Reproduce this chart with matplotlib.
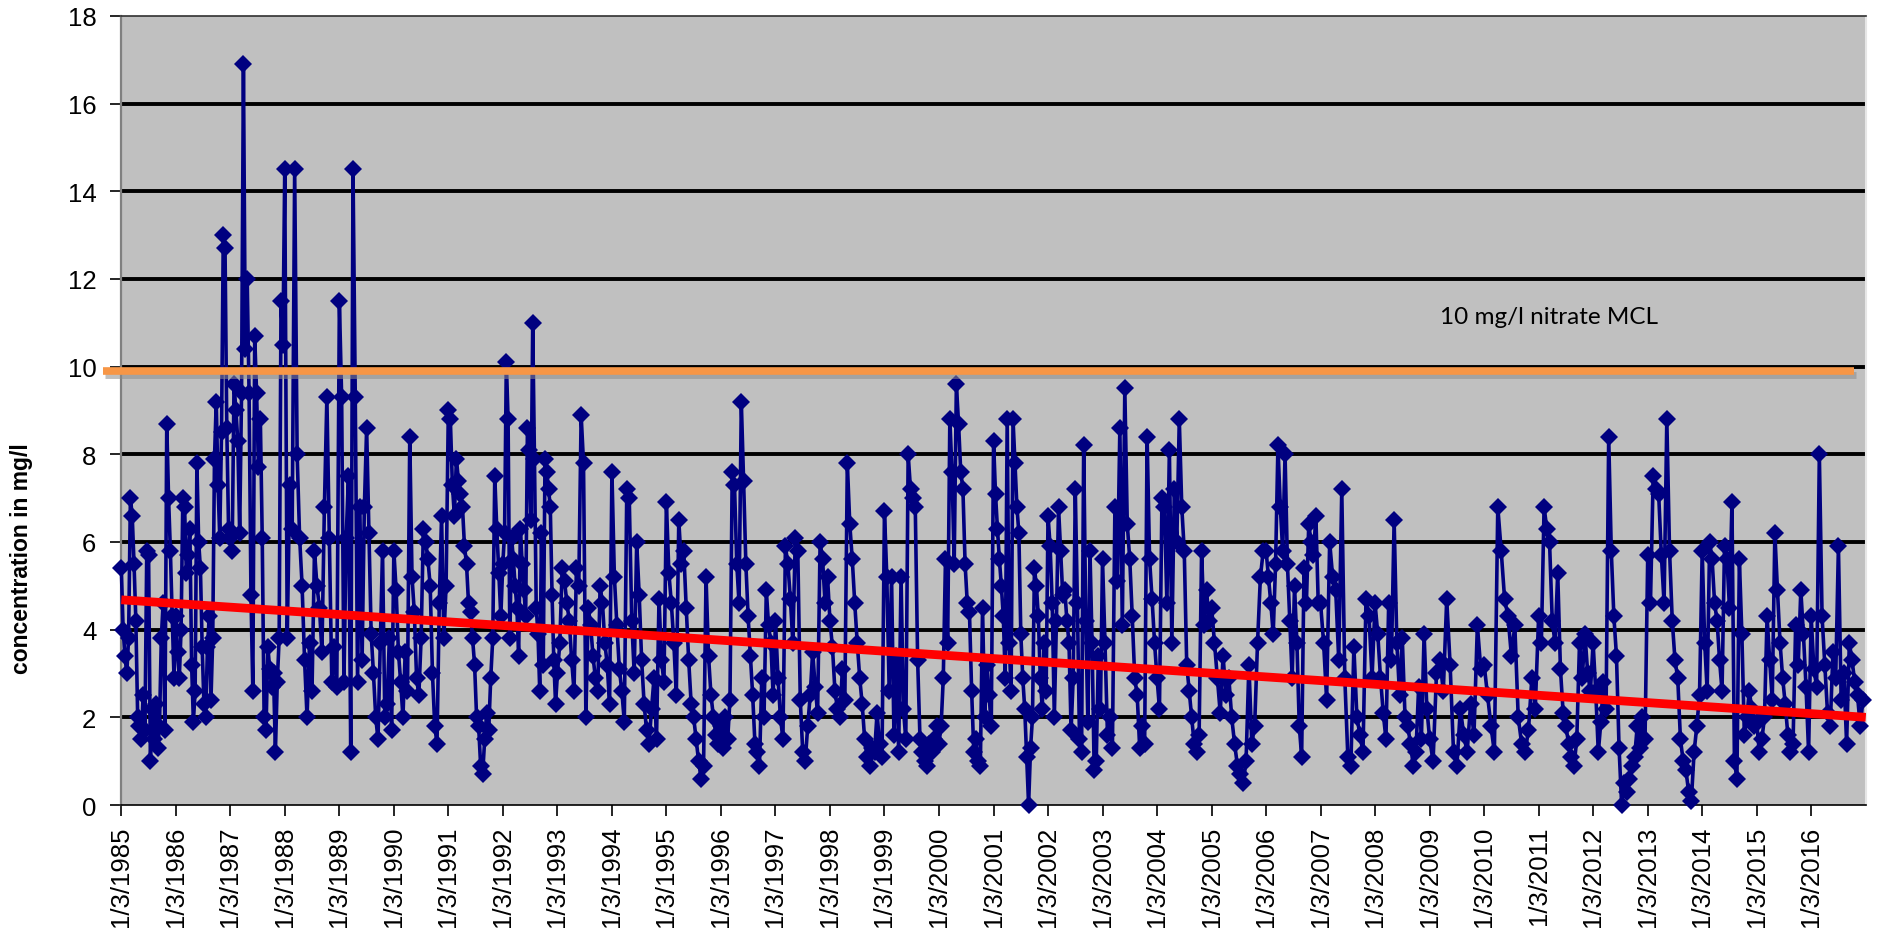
import datetime as dt

import matplotlib.pyplot as plt
from matplotlib import transforms

# nitrate concentration samples (mg/l), listed in sampling order within each year
y1985 = [5.4, 4.0, 3.4, 3.0, 3.8, 7.0, 6.6, 5.5, 4.2, 2.0, 1.8, 1.5, 2.5, 1.7, 5.8,
         5.7, 1.0, 2.2, 1.5, 2.3, 1.3, 1.8, 3.8, 4.6, 1.7, 8.7, 7.0, 5.8, 4.3, 2.9]
y1986 = [4.3, 3.5, 2.9, 4.0, 7.0, 6.8, 5.3, 5.7, 6.3, 3.2, 1.9, 2.6, 7.8, 6.0, 5.4, 3.6,
         2.3, 2.0, 3.6, 4.3, 2.4, 3.8, 7.9, 9.2, 7.3, 6.1, 8.5, 13.0, 12.7, 8.6, 6.3]
y1987 = [6.1, 5.8, 9.6, 9.0, 8.3, 6.2, 9.4, 16.9, 10.4, 12.0, 9.4, 4.8, 2.6, 10.7, 9.4,
         7.7, 8.8, 6.1, 2.0, 1.7, 3.6, 3.1, 2.7, 3.0, 1.2, 2.8, 3.8, 11.5, 10.5]
y1988 = [14.5, 3.8, 7.3, 6.3, 14.5, 8.0, 6.1, 5.0, 3.3, 2.0, 3.7, 2.6, 5.8, 5.0, 4.5,
         3.5, 6.8, 9.3, 6.1, 2.8, 3.6, 2.7]
y1989 = [11.5, 9.3, 2.8, 6.1, 7.5, 1.2, 14.5, 9.3, 2.8, 6.8, 3.3, 6.8, 8.6, 6.2, 3.9,
         3.0, 2.0, 1.5, 3.7, 5.8, 2.0, 2.3, 3.8, 1.7]
y1990 = [5.8, 4.9, 3.5, 2.8, 2.0, 3.5, 2.6, 8.4, 5.2, 4.4, 2.9, 2.5, 3.8, 6.3, 6.0,
         5.6, 5.0, 3.0, 1.8, 1.4, 4.6, 6.6, 3.8, 5.0]
y1991 = [9.0, 8.8, 7.3, 6.6, 7.9, 7.4, 7.1, 6.8, 5.9, 5.5, 4.6, 4.4, 3.8, 3.2, 2.0,
         1.8, 0.9, 0.7, 1.5, 2.1, 1.7, 2.9, 3.8, 7.5, 6.3, 5.3, 4.3]
y1992 = [5.5, 6.2, 10.1, 8.8, 3.8, 6.1, 5.6, 5.0, 4.5, 3.4, 6.3, 5.5, 4.9, 4.3, 8.6,
         8.1, 6.5, 11.0, 7.9, 4.5, 3.9, 2.6, 6.2, 3.2, 7.9, 7.6, 7.2, 6.8, 4.8, 3.3, 2.3]
y1993 = [3.0, 3.7, 5.4, 5.1, 4.6, 4.2, 3.3, 2.6, 5.4, 5.0, 8.9, 7.8, 2.0, 4.5, 4.1,
         3.4, 2.9, 2.6, 5.0, 4.6, 3.7, 3.2, 2.3]
y1994 = [7.6, 5.2, 4.1, 3.1, 2.6, 1.9, 7.2, 7.0, 4.2, 3.0, 6.0, 4.8, 3.3, 2.3, 1.7,
         1.4, 2.2, 2.9, 1.5, 4.7, 3.3, 2.8]
y1995 = [6.9, 5.3, 4.6, 3.7, 2.5, 6.5, 5.5, 5.8, 4.5, 3.3, 2.3, 2.0, 1.5, 1.0, 0.6,
         0.9, 5.2, 3.4, 2.5, 2.0, 1.6, 1.4]
y1996 = [1.8, 1.3, 2.0, 1.5, 2.4, 7.6, 7.3, 5.5, 4.6, 9.2, 7.4, 5.5, 4.3, 3.4, 2.5,
         1.4, 1.2, 0.9, 2.9, 2.0, 4.9, 4.1, 3.7, 2.5]
y1997 = [4.2, 2.9, 2.0, 1.5, 5.9, 5.5, 4.7, 3.7, 6.1, 5.8, 2.4, 1.2, 1.0, 1.8, 2.5,
         3.5, 2.7, 2.1, 6.0, 5.6, 4.6, 5.2]
y1998 = [4.2, 3.6, 2.6, 2.2, 2.0, 3.1, 2.4, 7.8, 6.4, 5.6, 4.6, 3.7, 2.9, 2.3, 1.5,
         1.1, 0.9, 1.3, 1.2, 2.1, 1.4, 1.1]
y1999 = [6.7, 5.2, 2.6, 5.2, 1.6, 3.4, 1.2, 5.2, 2.2, 1.5, 8.0, 7.2, 7.0, 6.8, 3.3,
         1.5, 1.2, 1.0, 0.9, 1.4, 1.2, 1.5, 1.8]
y2000 = [1.4, 1.8, 2.9, 5.6, 3.7, 8.8, 7.6, 5.5, 9.6, 8.7, 7.6, 7.2, 5.5, 4.6, 4.4,
         2.6, 1.2, 1.5, 1.0, 0.9, 4.5, 2.0, 3.2, 2.5, 1.8]
y2001 = [8.3, 7.1, 6.3, 5.6, 5.0, 4.3, 2.9, 8.8, 3.7, 2.6, 8.8, 7.8, 6.8, 6.2, 3.9,
         2.9, 2.2, 1.1, 0.0, 1.3, 2.0, 5.4, 5.0, 4.3, 2.9, 2.2, 3.7, 2.6]
y2002 = [6.6, 5.9, 4.6, 2.0, 4.2, 6.8, 5.8, 4.8, 4.9, 4.2, 3.7, 1.7, 2.9, 7.2, 4.6,
         1.5, 1.2, 8.2, 4.2, 1.9, 5.8, 3.7, 0.8, 1.0, 3.4, 2.2]
y2003 = [5.6, 3.7, 1.6, 2.0, 1.3, 6.8, 5.1, 8.6, 4.1, 9.5, 6.4, 5.6, 4.3, 2.9, 2.5,
         1.3, 1.8, 1.4, 8.4, 5.6, 4.7, 3.7]
y2004 = [2.9, 2.2, 7.0, 6.8, 4.6, 8.1, 3.7, 7.2, 6.0, 8.8, 6.8, 5.8, 3.2, 2.6, 2.0,
         1.4, 1.2, 1.6, 5.8, 4.1, 4.9, 4.2]
y2005 = [4.5, 3.7, 2.9, 2.1, 3.4, 2.5, 2.9, 2.0, 1.4, 0.9, 0.7, 0.5, 1.0, 3.2, 1.4,
         1.8, 3.7, 5.2, 5.8]
y2006 = [5.8, 5.2, 4.6, 3.9, 5.5, 8.2, 6.8, 5.8, 8.0, 5.5, 4.2, 2.9, 5.0, 3.7, 1.8,
         1.1, 5.4, 4.6, 6.4, 6.0, 5.7, 6.6, 4.6]
y2007 = [4.6, 3.7, 2.4, 6.0, 5.2, 4.9, 3.3, 7.2, 2.9, 1.1, 0.9, 3.6, 2.0, 1.6, 1.2,
         4.7, 4.3, 2.9]
y2008 = [4.6, 3.9, 2.9, 2.1, 1.5, 4.6, 3.3, 6.5, 3.7, 2.5, 3.8, 2.0, 1.8, 1.4, 0.9,
         1.2, 2.7, 1.5, 3.9, 2.2]
y2009 = [1.5, 1.0, 3.0, 3.3, 2.6, 4.7, 3.2, 1.2, 0.9, 2.2, 1.6, 1.2, 2.3, 1.6, 4.1, 3.1]
y2010 = [3.2, 2.5, 1.8, 1.2, 6.8, 5.8, 4.7, 4.3, 3.4, 4.1, 2.0, 1.4, 1.2, 1.7, 2.9, 2.2]
y2011 = [4.3, 3.7, 6.8, 6.3, 6.0, 4.2, 3.7, 5.3, 3.1, 2.1, 1.8, 1.4, 1.1, 0.9, 1.5,
         3.7, 2.9, 3.9, 3.0, 2.6]
y2012 = [3.7, 2.6, 1.2, 1.9, 2.8, 2.2, 8.4, 5.8, 4.3, 3.4, 1.3, 0.0, 0.5, 0.3, 0.6,
         0.9, 1.1, 1.8, 1.3, 2.0, 1.5]
y2013 = [5.7, 4.6, 7.5, 7.2, 7.1, 5.7, 4.6, 8.8, 5.8, 4.2, 3.3, 2.9, 1.5, 1.0, 0.8,
         0.3, 0.1, 1.2, 1.8, 2.5]
y2014 = [5.8, 3.7, 2.6, 6.0, 5.6, 4.6, 4.2, 3.3, 2.6, 5.9, 5.6, 4.5, 6.9, 1.0, 0.6,
         5.6, 3.9, 1.6, 2.0, 2.6, 2.2, 1.8]
y2015 = [1.9, 1.2, 1.5, 2.0, 4.3, 3.3, 2.4, 6.2, 4.9, 3.7, 2.9, 2.3, 1.6, 1.2, 1.4,
         4.1, 3.2, 4.9, 3.9, 2.7, 1.2]
y2016 = [4.3, 3.1, 2.7, 8.0, 4.3, 3.2, 2.1, 1.8, 3.5, 2.9, 5.9, 2.4, 3.0, 1.4, 3.7,
         3.3, 2.8, 2.5, 1.8, 2.4]

years = list(range(1985, 2017))
yearly = [y1985, y1986, y1987, y1988, y1989, y1990, y1991, y1992, y1993, y1994,
          y1995, y1996, y1997, y1998, y1999, y2000, y2001, y2002, y2003, y2004,
          y2005, y2006, y2007, y2008, y2009, y2010, y2011, y2012, y2013, y2014,
          y2015, y2016]

# linear trend (start / end of record) and the drinking water limit
trend_start = 4.68
trend_end = 2.0
mcl = 10

# spread each year's samples over that year, starting on Jan 3
dates = []
values = []
for year, vals in zip(years, yearly):
    start = dt.datetime(year, 1, 3)
    for i, v in enumerate(vals):
        dates.append(start + dt.timedelta(days=365.25 * i / len(vals)))
        values.append(v)

x_first = dt.datetime(1985, 1, 3)
x_last = dt.datetime(2017, 1, 3)

fig = plt.figure(figsize=(18.78, 9.29), dpi=100)
ax = fig.add_axes([0.0646, 0.1324, 0.9289, 0.8495])
ax.set_facecolor("#c0c0c0")

for level in range(2, 18, 2):
    ax.axhline(level, color="black", linewidth=2.8, zorder=1)

ax.plot(dates, values, color="#000080", linewidth=2.6, marker="D", markersize=9.5,
        markeredgewidth=0, zorder=3, clip_on=False)

ax.plot([x_first, x_last], [trend_start, trend_end], color="#ff0000", linewidth=6.3,
        solid_capstyle="butt", zorder=4)

# MCL line sits a few pixels under its gridline and carries a soft shadow
yx = ax.get_yaxis_transform()
mcl_tr = transforms.offset_copy(yx, fig=fig, x=0, y=-4, units="dots")
shadow_tr = transforms.offset_copy(yx, fig=fig, x=2, y=-8, units="dots")
ax.plot([-0.0105, 0.9935], [mcl, mcl], transform=shadow_tr, color="#8c8c8c",
        linewidth=5, alpha=0.55, solid_capstyle="butt", zorder=4, clip_on=False)
ax.plot([-0.0105, 0.9935], [mcl, mcl], transform=mcl_tr, color="#f79646",
        linewidth=5.5, solid_capstyle="butt", zorder=5, clip_on=False)

ax.text(dt.datetime(2009, 3, 10), 11.15, "10 mg/l nitrate MCL", fontsize=17.5,
        family=["Lato", "DejaVu Sans"], va="center", ha="left", zorder=6)

ax.set_xlim(x_first, x_last)
ax.set_ylim(0, 18)
ax.set_yticks(range(0, 19, 2))
ax.set_xticks([dt.datetime(y, 1, 3) for y in years])
ax.set_xticklabels([f"1/3/{y}" for y in years], rotation=90)

for label in ax.get_xticklabels() + ax.get_yticklabels():
    label.set_fontfamily(["Liberation Sans", "DejaVu Sans"])
    label.set_fontsize(18.5)

ax.tick_params(axis="y", direction="out", length=8, width=1.2, pad=10)
ax.tick_params(axis="x", direction="out", length=8, width=1.2, pad=7)

ax.spines["left"].set_color("#808080")
ax.spines["left"].set_linewidth(1.6)
ax.spines["bottom"].set_color("black")
ax.spines["bottom"].set_linewidth(1.2)
ax.spines["top"].set_color("#303030")
ax.spines["top"].set_linewidth(1.2)
ax.spines["right"].set_color("#e6e6e6")
ax.spines["right"].set_linewidth(1.5)

fig.text(0.0117, 0.399, "concentration in mg/l", rotation=90, fontsize=16.5,
         fontweight="bold", family=["Liberation Sans", "DejaVu Sans"],
         ha="center", va="center")

fig.savefig("out.png", dpi=100, facecolor="white")
